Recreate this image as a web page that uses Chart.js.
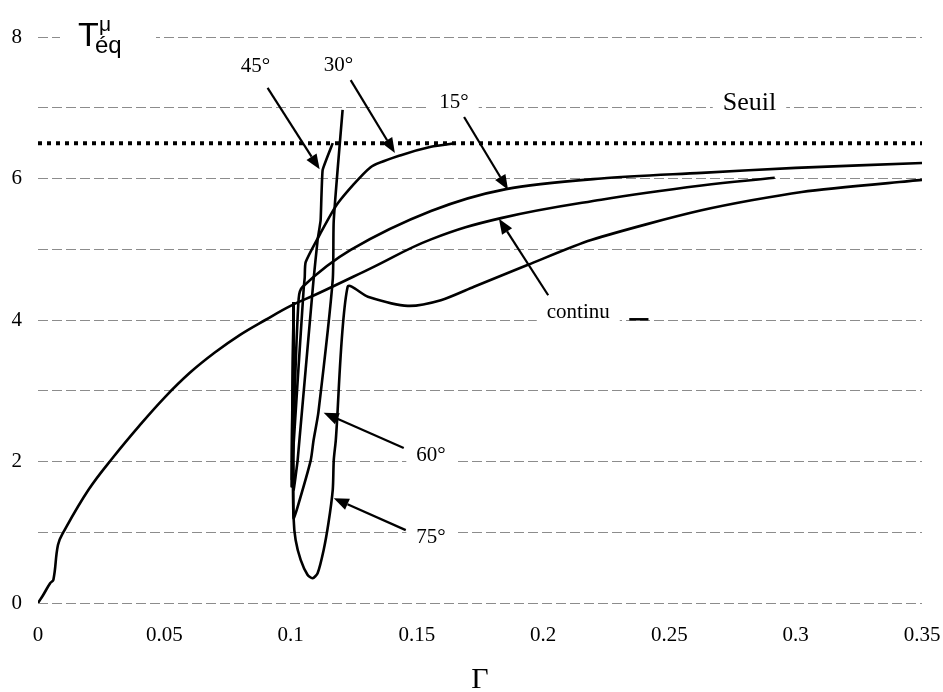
<!DOCTYPE html>
<html>
<head>
<meta charset="utf-8">
<script src="https://cdn.jsdelivr.net/npm/chart.js@4/dist/chart.umd.min.js"></script>
<style>
  body { margin: 0; background: #fff; }
</style>
</head>
<body>
<canvas id="myChart" width="943" height="692"></canvas>
<script>
// values (x = Gamma, y = T eq)
const continuX = [0, 0.002, 0.0048, 0.0061, 0.0079, 0.0099, 0.02, 0.03, 0.04, 0.05, 0.06, 0.07, 0.08, 0.09, 0.1, 0.11, 0.1317, 0.1556, 0.1833, 0.223, 0.2627, 0.2917];
const continuY = [0, 0.11, 0.28, 0.33, 0.82, 0.99, 1.60, 2.07, 2.5, 2.9, 3.25, 3.54, 3.79, 4.0, 4.2, 4.36, 4.73, 5.14, 5.44, 5.70, 5.90, 6.01];

const a15X = [0.1012, 0.1008, 0.1005, 0.1012, 0.1032, 0.1048, 0.1238, 0.1556, 0.1853, 0.223, 0.2627, 0.30, 0.35];
const a15Y = [4.25, 3.0, 1.75, 2.5, 4.3, 4.47, 4.99, 5.54, 5.85, 6.0, 6.08, 6.15, 6.22];

const a30X = [0.1012, 0.1006, 0.1004, 0.1008, 0.1052, 0.1056, 0.106, 0.1119, 0.1187, 0.1317, 0.1437, 0.1556, 0.1655];
const a30Y = [4.25, 2.5, 1.65, 2.02, 4.45, 4.6, 4.82, 5.23, 5.65, 6.16, 6.33, 6.45, 6.5];

const a45X = [0.1012, 0.1009, 0.1012, 0.1028, 0.1091, 0.1107, 0.1119, 0.1127, 0.1167];
const a45Y = [4.25, 2.5, 1.6, 2.02, 4.57, 5.13, 5.41, 6.12, 6.5];

const a60X = [0.1012, 0.101, 0.1012, 0.1028, 0.108, 0.1091, 0.111, 0.1167, 0.1171, 0.1206];
const a60Y = [4.25, 2.0, 1.2, 1.36, 2.02, 2.3, 2.69, 4.57, 5.41, 6.97];

const a75X = [0.1012, 0.101, 0.1012, 0.102, 0.104, 0.1067, 0.1087, 0.1107, 0.1131, 0.115, 0.1167, 0.1171, 0.1179, 0.1226, 0.1306, 0.1464, 0.1595, 0.1726, 0.194, 0.219, 0.2627, 0.3024, 0.35];
const a75Y = [4.25, 2.0, 1.2, 0.89, 0.61, 0.4, 0.35, 0.42, 0.75, 1.13, 1.6, 2.02, 2.3, 4.47, 4.33, 4.2, 4.28, 4.47, 4.78, 5.13, 5.55, 5.81, 5.98];

const seuilX = [0, 0.35];
const seuilY = [6.5, 6.5];

const xTicks = [0, 0.05, 0.1, 0.15, 0.2, 0.25, 0.3, 0.35];
const yTicks = [0, 2, 4, 6, 8];

// labels with arrows: [text, textX, textY, fromX, fromY, tipX, tipY]
const callouts = [
    ['45°', 0.0861, 7.58, 0.0909, 7.28, 0.1115, 6.13],
    ['30°', 0.1190, 7.60, 0.1238, 7.39, 0.1413, 6.36],
    ['15°', 0.1647, 7.08, 0.1687, 6.87, 0.1861, 5.84],
    ['continu', 0.2139, 4.11, 0.2020, 4.35, 0.1825, 5.43],
    ['60°', 0.1556, 2.09, 0.1448, 2.19, 0.1131, 2.69],
    ['75°', 0.1556, 0.92, 0.1456, 1.03, 0.1171, 1.48]
];

function toPoints(xs, ys) {
    return xs.map((x, i) => ({x: x, y: ys[i]}));
}

function curve(label, xs, ys, tension) {
    return {
        label: label,
        data: toPoints(xs, ys),
        showLine: true,
        borderColor: '#000',
        borderWidth: 2.6,
        pointRadius: 0,
        tension: tension,
        fill: false
    };
}

const SERIF = '"Liberation Serif", "DejaVu Serif", serif';
const SANS = '"Liberation Sans", Arial, sans-serif';

function arrow(ctx, x1, y1, x2, y2) {
    const ang = Math.atan2(y2 - y1, x2 - x1);
    const len = 15, half = 6;
    const bx = x2 - len * Math.cos(ang), by = y2 - len * Math.sin(ang);
    ctx.beginPath();
    ctx.moveTo(x1, y1);
    ctx.lineTo(bx, by);
    ctx.lineWidth = 2.2;
    ctx.strokeStyle = '#000';
    ctx.stroke();
    ctx.beginPath();
    ctx.moveTo(x2, y2);
    ctx.lineTo(bx + half * Math.sin(ang), by - half * Math.cos(ang));
    ctx.lineTo(bx - half * Math.sin(ang), by + half * Math.cos(ang));
    ctx.closePath();
    ctx.fillStyle = '#000';
    ctx.fill();
}

function boxedText(ctx, text, x, y, font) {
    ctx.font = font;
    const w = ctx.measureText(text).width;
    ctx.fillStyle = '#fff';
    ctx.fillRect(x - w / 2 - 10, y - 12, w + 20, 24);
    ctx.fillStyle = '#000';
    ctx.textAlign = 'center';
    ctx.textBaseline = 'middle';
    ctx.fillText(text, x, y);
}

const annotations = {
    id: 'annotations',
    afterDraw(chart) {
        const ctx = chart.ctx;
        const xs = chart.scales.x, ys = chart.scales.y;
        const area = chart.chartArea;
        ctx.save();

        callouts.forEach(c => {
            boxedText(ctx, c[0], xs.getPixelForValue(c[1]), ys.getPixelForValue(c[2]), '21px ' + SERIF);
            arrow(ctx, xs.getPixelForValue(c[3]), ys.getPixelForValue(c[4]),
                  xs.getPixelForValue(c[5]), ys.getPixelForValue(c[6]));
        });

        // short sample dash next to "continu"
        ctx.beginPath();
        ctx.moveTo(xs.getPixelForValue(0.2341), ys.getPixelForValue(4.01));
        ctx.lineTo(xs.getPixelForValue(0.2417), ys.getPixelForValue(4.01));
        ctx.lineWidth = 2.5;
        ctx.stroke();

        boxedText(ctx, 'Seuil', xs.getPixelForValue(0.2817), ys.getPixelForValue(7.07), '26px ' + SERIF);

        // y axis title T^mu_eq
        const tx = area.left + 40, ty = area.top;
        ctx.fillStyle = '#fff';
        ctx.fillRect(tx - 18, ty - 20, 96, 40);
        ctx.fillStyle = '#000';
        ctx.textAlign = 'left';
        ctx.textBaseline = 'alphabetic';
        ctx.font = '34px ' + SANS;
        ctx.fillText('T', tx, ty + 9);
        ctx.font = '21px ' + SANS;
        ctx.fillText('μ', tx + 21, ty - 6);
        ctx.font = '24px ' + SANS;
        ctx.fillText('éq', tx + 17, ty + 16);

        // x axis title Gamma
        ctx.font = '30px ' + SERIF;
        ctx.textAlign = 'center';
        ctx.fillText('Γ', (area.left + area.right) / 2, 688);
        ctx.restore();
    }
};

const ctx = document.getElementById('myChart').getContext('2d');
const chart = new Chart(ctx, {
    type: 'scatter',
    data: {
        datasets: [
            {
                label: 'Seuil',
                data: toPoints(seuilX, seuilY),
                showLine: true,
                borderColor: '#000',
                borderWidth: 4,
                borderDash: [4, 5],
                pointRadius: 0
            },
            curve('continu', continuX, continuY, 0.4),
            curve('15°', a15X, a15Y, 0.3),
            curve('30°', a30X, a30Y, 0.2),
            curve('45°', a45X, a45Y, 0.1),
            curve('60°', a60X, a60Y, 0.2),
            curve('75°', a75X, a75Y, 0.25)
        ]
    },
    options: {
        responsive: false,
        animation: false,
        layout: {
            padding: {top: 37, right: 21, left: 0, bottom: 0}
        },
        plugins: {
            legend: {display: false},
            tooltip: {enabled: false}
        },
        scales: {
            x: {
                type: 'linear',
                min: 0,
                max: 0.35,
                afterFit: s => { s.height = 89; s.paddingLeft = 0; s.paddingRight = 0; },
                afterBuildTicks: s => { s.ticks = xTicks.map(v => ({value: v})); },
                ticks: {
                    color: '#000',
                    padding: 12,
                    maxRotation: 0,
                    font: {family: SERIF, size: 21},
                    callback: v => String(+Number(v).toFixed(2))
                },
                grid: {display: false},
                border: {display: false}
            },
            y: {
                min: 0,
                max: 8,
                afterFit: s => { s.width = 38; s.paddingTop = 0; s.paddingBottom = 0; },
                ticks: {
                    stepSize: 1,
                    color: '#000',
                    padding: 16,
                    font: {family: SERIF, size: 21},
                    callback: v => yTicks.includes(v) ? String(v) : ''
                },
                grid: {color: '#8c8c8c', lineWidth: 1, drawTicks: false},
                border: {display: false, dash: [10, 4]}
            }
        }
    },
    plugins: [annotations]
});
</script>
</body>
</html>
